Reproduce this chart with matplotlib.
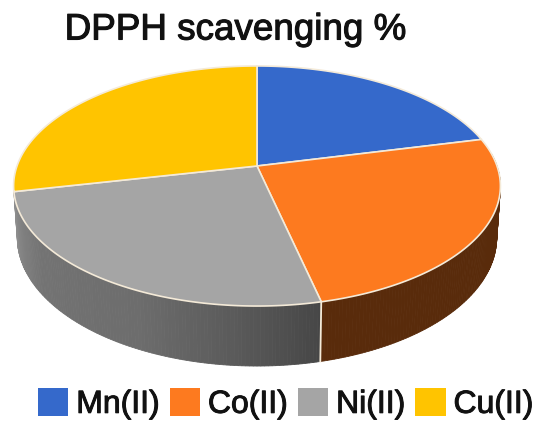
import numpy as np
import matplotlib
matplotlib.use("Agg")
import matplotlib.pyplot as plt
from matplotlib.patches import Polygon, Patch
import matplotlib.patheffects as pe

title = "DPPH scavenging %"
labels = ["Mn(II)", "Co(II)", "Ni(II)", "Cu(II)"]
values = [21.2, 25.2, 25.2, 28.4]
colors = ["#3569cb", "#fd7a1f", "#a5a5a5", "#ffc400"]

plt.rcParams["font.family"] = ["Liberation Sans", "DejaVu Sans"]

# projection of the tilted disc, in pixel units
CX, CY, A, B, K, DEPTH = 257.0, 166.0, 240.0, 116.7, 1 / 6, 50.0
EDGE = "#f4ead8"


def project(theta, r=1.0, lower=False):
    u, v = r * np.sin(theta), r * np.cos(theta)
    w = 1 + K * v
    x = u / w * A * (0.985 if lower else 1.0)
    y = -B * v / w + (DEPTH / w if lower else 0.0)
    return CX + x, CY + y


def wall_shade(i, deg):
    if i == 2:
        return np.interp(deg, [166, 185, 205, 235, 258], [0.42, 0.55, 0.66, 0.70, 0.86])
    return 0.35


fig = plt.figure(figsize=(5.5, 4.4), dpi=100)
ax = fig.add_axes([0, 0, 1, 1])
ax.set_xlim(0, 550)
ax.set_ylim(440, 0)
ax.axis("off")

edges = np.cumsum([0] + values) / sum(values) * 2 * np.pi

# side wall (only the two front slices show one)
for i in (1, 2):
    th = np.linspace(edges[i], edges[i + 1], 120)
    for a, b in zip(th[:-1], th[1:]):
        if np.cos((a + b) / 2) > 0.1:
            continue
        xa, ya = project(a)
        xb, yb = project(b)
        xc, yc = project(b, lower=True)
        xd, yd = project(a, lower=True)
        f = wall_shade(i, np.degrees((a + b) / 2))
        rgb = np.array(matplotlib.colors.to_rgb(colors[i])) * f
        ax.add_patch(Polygon([(xa, ya), (xb, yb), (xc, yc), (xd, yd)],
                             closed=True, fc=rgb, ec=rgb, lw=0.6, zorder=1))

# vertical seam on the wall at the front slice boundary
x0, y0 = project(edges[2])
x1, y1 = project(edges[2], lower=True)
ax.plot([x0, x1], [y0, y1], color=EDGE, lw=1.3, zorder=2)

# top face
for i in range(len(values)):
    th = np.linspace(edges[i], edges[i + 1], 200)
    xs, ys = project(th)
    pts = [(CX, CY)] + list(zip(xs, ys))
    ax.add_patch(Polygon(pts, closed=True, fc=colors[i], ec=EDGE, lw=1.2,
                         joinstyle="round", zorder=3))

ax.text(235, 30, title, ha="center", va="center", fontsize=26.5, color="#111111",
        path_effects=[pe.withStroke(linewidth=0.8, foreground="#111111")], zorder=5)

handles = [Patch(fc=c, ec="none") for c in colors]
leg = ax.legend(handles, labels, ncol=4, loc="center", bbox_to_anchor=(286 / 550, 1 - 404 / 440),
                frameon=False, fontsize=23, handlelength=0.94, handleheight=0.94,
                handletextpad=0.25, columnspacing=0.31, borderpad=0, borderaxespad=0,
                labelcolor="#111111")
for t in leg.get_texts():
    t.set_path_effects([pe.withStroke(linewidth=0.7, foreground="#111111")])

fig.savefig("out.png", dpi=100)
